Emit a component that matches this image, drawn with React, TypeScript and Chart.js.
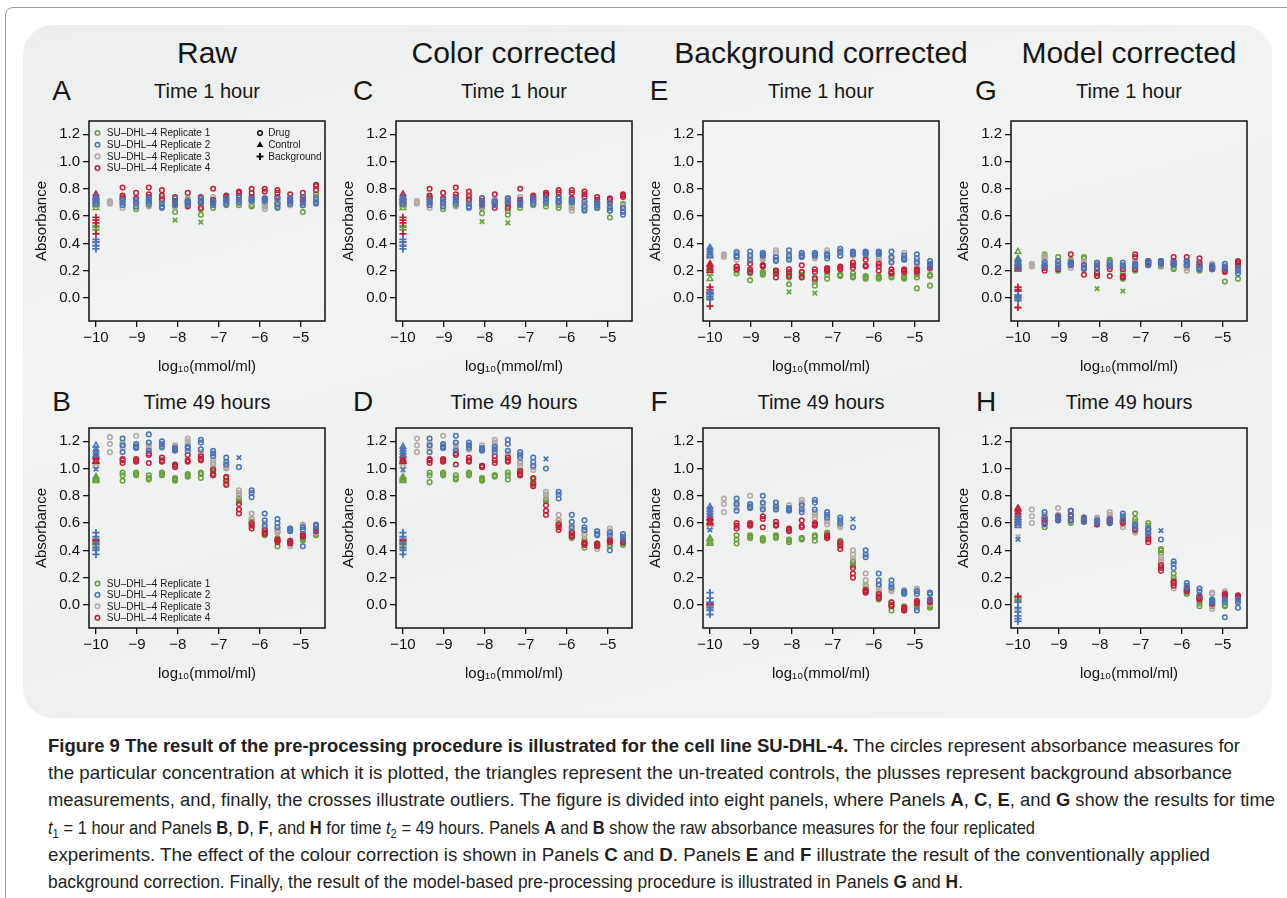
import React, { useEffect, useLayoutEffect, useRef } from 'react';
import { Chart, registerables } from 'chart.js';

Chart.register(...registerables);

const FONT = '"Liberation Sans", Arimo, Arial, sans-serif';
const CAPTION_FONT = '"Liberation Sans Narrow", "Liberation Sans", Arial, sans-serif';

// ---------- data ----------
const REPLICATES = ['SU–DHL–4 Replicate 1', 'SU–DHL–4 Replicate 2', 'SU–DHL–4 Replicate 3', 'SU–DHL–4 Replicate 4'];
const SYMBOL_LEGEND = ['Drug', 'Control', 'Background'];
const COLUMN_TITLES = ['Raw', 'Color corrected', 'Background corrected', 'Model corrected'];
const ROW_TITLES = ['Time 1 hour', 'Time 49 hours'];

// log10 concentrations of the dilution series
const CONC = [-9.66, -9.35, -9.02, -8.71, -8.39, -8.07, -7.76, -7.44, -7.14, -6.82, -6.51, -6.2, -5.88, -5.57, -5.26, -4.95, -4.63];
const CONTROL_X = -10;
const X_TICKS = [-10, -9, -8, -7, -6, -5];
const Y_TICKS = [0, 0.2, 0.4, 0.6, 0.8, 1.0, 1.2];
const X_MIN = -10.17;
const X_MAX = -4.41;
const Y_MIN = -0.169;
const Y_MAX = 1.297;

// Panel A: raw, 1 hour
const A_R1 = [[], [0.70, 0.72, 0.74], [0.65, 0.67, 0.70], [0.68, 0.70, 0.72], [0.70, 0.72, 0.73], [0.63, 0.67, 0.69], [0.69, 0.71, 0.72], [0.61, 0.65, 0.70], [0.66, 0.69, 0.71], [0.68, 0.69, 0.71], [0.68, 0.70, 0.72], [0.67, 0.68, 0.71], [0.67, 0.69, 0.71], [0.67, 0.69, 0.71], [0.68, 0.70, 0.71], [0.63, 0.68, 0.71], [0.72, 0.74, 0.76]];
const A_R2 = [[], [0.68, 0.70, 0.72], [0.67, 0.70, 0.72], [0.69, 0.71, 0.73], [0.66, 0.67, 0.69], [0.68, 0.70, 0.73], [0.68, 0.70, 0.71], [0.70, 0.71, 0.73], [0.68, 0.70, 0.71], [0.69, 0.71, 0.73], [0.70, 0.72, 0.74], [0.71, 0.72, 0.73], [0.71, 0.72, 0.73], [0.66, 0.69, 0.73], [0.69, 0.71, 0.73], [0.68, 0.70, 0.74], [0.69, 0.70, 0.73]];
const A_R3 = [[0.69, 0.70, 0.71], [0.66, 0.68, 0.71], [0.68, 0.70, 0.72], [0.67, 0.69, 0.70], [0.69, 0.71, 0.73], [0.67, 0.70, 0.71], [0.69, 0.71, 0.73], [0.68, 0.70, 0.72], [0.71, 0.72, 0.74], [0.70, 0.72, 0.73], [0.70, 0.72, 0.74], [0.70, 0.72, 0.74], [0.65, 0.67, 0.70], [0.68, 0.70, 0.72], [0.68, 0.70, 0.72], [0.69, 0.71, 0.73], [0.70, 0.71, 0.73]];
const A_R4 = [[], [0.73, 0.75, 0.81], [0.70, 0.73, 0.77], [0.74, 0.76, 0.81], [0.72, 0.75, 0.79], [0.69, 0.71, 0.74], [0.67, 0.70, 0.77], [0.66, 0.70, 0.74], [0.70, 0.72, 0.80], [0.72, 0.74, 0.75], [0.75, 0.77, 0.78], [0.74, 0.77, 0.80], [0.73, 0.78, 0.80], [0.74, 0.77, 0.79], [0.71, 0.73, 0.76], [0.72, 0.74, 0.77], [0.79, 0.82, 0.83]];
const A_CTRL = [[0.66, 0.68, 0.70, 0.72], [0.69, 0.71, 0.73, 0.74], [0.70, 0.72, 0.73], [0.71, 0.74, 0.76]];
const A_BG = [[0.50, 0.52, 0.53], [0.36, 0.38, 0.41, 0.43], [0.39, 0.41], [0.47, 0.55, 0.57, 0.59]];
const A_OUT = [[0, CONC[5], 0.57], [0, CONC[7], 0.555]];

// Panel C: colour corrected, 1 hour
const C_R1 = [[], [0.70, 0.72, 0.74], [0.65, 0.67, 0.70], [0.68, 0.70, 0.72], [0.70, 0.72, 0.73], [0.62, 0.66, 0.69], [0.69, 0.70, 0.72], [0.61, 0.64, 0.70], [0.66, 0.69, 0.70], [0.68, 0.69, 0.71], [0.67, 0.69, 0.71], [0.66, 0.68, 0.70], [0.66, 0.68, 0.70], [0.65, 0.67, 0.69], [0.66, 0.67, 0.69], [0.59, 0.64, 0.68], [0.66, 0.68, 0.69]];
const C_R2 = [[], [0.68, 0.70, 0.72], [0.67, 0.70, 0.72], [0.69, 0.71, 0.73], [0.66, 0.67, 0.69], [0.68, 0.70, 0.73], [0.68, 0.70, 0.71], [0.70, 0.71, 0.73], [0.68, 0.69, 0.71], [0.69, 0.71, 0.73], [0.70, 0.72, 0.73], [0.70, 0.71, 0.73], [0.70, 0.71, 0.72], [0.64, 0.67, 0.71], [0.66, 0.68, 0.70], [0.64, 0.66, 0.70], [0.61, 0.63, 0.66]];
const C_R3 = [[0.69, 0.70, 0.71], [0.66, 0.68, 0.71], [0.68, 0.70, 0.72], [0.67, 0.69, 0.70], [0.69, 0.71, 0.73], [0.67, 0.70, 0.71], [0.69, 0.71, 0.72], [0.68, 0.70, 0.72], [0.71, 0.72, 0.74], [0.70, 0.72, 0.73], [0.70, 0.72, 0.73], [0.70, 0.71, 0.73], [0.64, 0.66, 0.69], [0.66, 0.68, 0.70], [0.66, 0.68, 0.70], [0.66, 0.68, 0.70], [0.64, 0.66, 0.68]];
const C_R4 = [[], [0.73, 0.75, 0.80], [0.70, 0.73, 0.77], [0.74, 0.76, 0.81], [0.72, 0.75, 0.78], [0.69, 0.71, 0.73], [0.66, 0.70, 0.76], [0.66, 0.69, 0.73], [0.70, 0.72, 0.80], [0.72, 0.74, 0.75], [0.75, 0.76, 0.77], [0.74, 0.77, 0.79], [0.73, 0.77, 0.79], [0.74, 0.76, 0.78], [0.70, 0.72, 0.74], [0.70, 0.72, 0.73], [0.74, 0.75, 0.76]];
const C_CTRL = [[0.66, 0.68, 0.70, 0.72], [0.69, 0.71, 0.73, 0.74], [0.70, 0.72, 0.73], [0.71, 0.74, 0.76]];
const C_BG = [[0.50, 0.52, 0.53], [0.36, 0.38, 0.41, 0.43], [0.39, 0.41], [0.47, 0.55, 0.57, 0.59]];
const C_OUT = [[0, CONC[5], 0.56], [0, CONC[7], 0.55]];

// Panel E: background corrected, 1 hour
const E_R1 = [[], [0.18, 0.20, 0.21], [0.13, 0.18, 0.20], [0.17, 0.18, 0.19], [0.18, 0.19, 0.20], [0.10, 0.15, 0.17], [0.16, 0.17, 0.19], [0.09, 0.12, 0.15], [0.14, 0.17, 0.19], [0.16, 0.17, 0.17], [0.15, 0.16, 0.18], [0.14, 0.15, 0.16], [0.14, 0.15, 0.16], [0.15, 0.16, 0.18], [0.14, 0.15, 0.16], [0.07, 0.15, 0.17], [0.09, 0.16, 0.17]];
const E_R2 = [[], [0.30, 0.31, 0.33], [0.28, 0.31, 0.34], [0.31, 0.32, 0.33], [0.27, 0.28, 0.30], [0.28, 0.31, 0.35], [0.30, 0.31, 0.33], [0.31, 0.32, 0.33], [0.29, 0.31, 0.32], [0.31, 0.34, 0.36], [0.32, 0.33, 0.34], [0.32, 0.33, 0.34], [0.32, 0.33, 0.34], [0.26, 0.30, 0.34], [0.28, 0.29, 0.31], [0.26, 0.29, 0.32], [0.23, 0.25, 0.27]];
const E_R3 = [[0.30, 0.31, 0.32], [0.28, 0.31, 0.34], [0.27, 0.29, 0.31], [0.28, 0.29, 0.30], [0.30, 0.33, 0.35], [0.29, 0.30, 0.32], [0.30, 0.31, 0.32], [0.29, 0.30, 0.32], [0.31, 0.33, 0.35], [0.31, 0.33, 0.34], [0.31, 0.32, 0.33], [0.30, 0.32, 0.33], [0.27, 0.29, 0.30], [0.27, 0.29, 0.30], [0.28, 0.30, 0.33], [0.23, 0.25, 0.27], [0.21, 0.22, 0.24]];
const E_R4 = [[], [0.21, 0.23, 0.23], [0.19, 0.21, 0.25], [0.23, 0.24, 0.24], [0.15, 0.18, 0.20], [0.16, 0.19, 0.21], [0.15, 0.19, 0.24], [0.14, 0.19, 0.21], [0.20, 0.21, 0.22], [0.21, 0.22, 0.23], [0.22, 0.24, 0.26], [0.23, 0.24, 0.28], [0.20, 0.23, 0.25], [0.18, 0.19, 0.21], [0.19, 0.20, 0.21], [0.19, 0.20, 0.21], [0.22, 0.23, 0.24]];
const E_CTRL = [[0.14, 0.18, 0.21, 0.22], [0.31, 0.33, 0.35, 0.37], [0.30, 0.32], [0.20, 0.22, 0.24, 0.25]];
const E_BG = [[-0.01, 0.0, 0.02], [-0.01, 0.01, 0.03, 0.04], [0.0, 0.02], [-0.06, 0.04, 0.06, 0.08]];
const E_OUT = [[0, CONC[5], 0.045], [0, CONC[7], 0.035]];

// Panel G: model corrected, 1 hour
const G_R1 = [[], [0.27, 0.30, 0.32], [0.20, 0.25, 0.30], [0.25, 0.27, 0.28], [0.27, 0.29, 0.30], [0.16, 0.19, 0.21], [0.25, 0.27, 0.28], [0.14, 0.16, 0.19], [0.20, 0.22, 0.24], [0.24, 0.26, 0.27], [0.23, 0.25, 0.27], [0.21, 0.22, 0.24], [0.22, 0.24, 0.25], [0.20, 0.22, 0.23], [0.21, 0.22, 0.23], [0.12, 0.20, 0.22], [0.14, 0.23, 0.25]];
const G_R2 = [[], [0.23, 0.24, 0.26], [0.22, 0.24, 0.27], [0.24, 0.25, 0.26], [0.21, 0.22, 0.24], [0.21, 0.24, 0.26], [0.23, 0.24, 0.26], [0.23, 0.24, 0.26], [0.23, 0.24, 0.25], [0.24, 0.25, 0.27], [0.25, 0.26, 0.27], [0.24, 0.25, 0.26], [0.24, 0.26, 0.27], [0.21, 0.22, 0.24], [0.21, 0.23, 0.24], [0.21, 0.23, 0.25], [0.18, 0.20, 0.22]];
const G_R3 = [[0.23, 0.24, 0.25], [0.22, 0.29, 0.31], [0.24, 0.26, 0.27], [0.22, 0.24, 0.27], [0.25, 0.26, 0.27], [0.22, 0.24, 0.25], [0.24, 0.25, 0.26], [0.21, 0.22, 0.24], [0.24, 0.26, 0.27], [0.24, 0.25, 0.26], [0.24, 0.25, 0.26], [0.24, 0.25, 0.26], [0.20, 0.22, 0.23], [0.23, 0.24, 0.26], [0.22, 0.23, 0.25], [0.21, 0.22, 0.23], [0.20, 0.21, 0.22]];
const G_R4 = [[], [0.20, 0.22, 0.24], [0.21, 0.22, 0.24], [0.24, 0.26, 0.32], [0.17, 0.22, 0.24], [0.16, 0.18, 0.22], [0.16, 0.21, 0.23], [0.15, 0.16, 0.21], [0.21, 0.30, 0.32], [0.25, 0.26, 0.27], [0.25, 0.26, 0.27], [0.25, 0.27, 0.30], [0.24, 0.27, 0.30], [0.24, 0.26, 0.29], [0.21, 0.22, 0.23], [0.19, 0.20, 0.22], [0.24, 0.26, 0.27]];
const G_CTRL = [[0.22, 0.25, 0.29, 0.34], [0.22, 0.24, 0.26, 0.28], [0.23, 0.25, 0.27], [0.21, 0.23, 0.25]];
const G_BG = [[-0.01, 0.01], [-0.02, 0.0, 0.01, 0.02], [0.0, 0.02], [-0.07, 0.05, 0.06, 0.08]];
const G_OUT = [[0, CONC[5], 0.068], [0, CONC[7], 0.05]];

// Panel B: raw, 49 hours
const B_R1 = [[], [0.91, 0.95, 0.97], [0.95, 0.96, 0.97], [0.92, 0.93, 0.95], [0.95, 0.96, 0.97], [0.91, 0.92, 0.93], [0.94, 0.95, 0.96], [0.93, 0.96, 0.97], [0.95, 0.98, 1.00], [0.89, 0.91, 0.93], [0.76, 0.77, 0.78], [0.59, 0.61, 0.63], [0.51, 0.53, 0.54], [0.43, 0.47, 0.49], [0.45, 0.46, 0.47], [0.47, 0.48, 0.49], [0.51, 0.52, 0.53]];
const B_R2 = [[], [1.12, 1.17, 1.22], [1.15, 1.16, 1.18], [1.13, 1.19, 1.25], [1.16, 1.18, 1.20], [1.13, 1.14, 1.15], [1.13, 1.15, 1.16], [1.14, 1.19, 1.21], [1.09, 1.11, 1.13], [1.03, 1.05, 1.08], [1.01], [0.79, 0.82, 0.84], [0.58, 0.62, 0.67], [0.57, 0.60, 0.63], [0.54, 0.55, 0.56], [0.43, 0.55, 0.57], [0.55, 0.58, 0.59]];
const B_R3 = [[1.12, 1.18, 1.23], [1.15, 1.17, 1.19], [1.15, 1.17, 1.24], [1.14, 1.15, 1.17], [1.15, 1.16, 1.17], [1.15, 1.16, 1.17], [1.18, 1.20, 1.22], [1.08, 1.10, 1.12], [1.03, 1.04, 1.06], [1.00, 1.01, 1.02], [0.80, 0.82, 0.84], [0.60, 0.63, 0.67], [0.55, 0.57, 0.60], [0.53, 0.54, 0.55], [0.43, 0.46, 0.56], [0.57, 0.58, 0.59], [0.53, 0.54, 0.55]];
const B_R4 = [[], [1.04, 1.06, 1.07], [1.05, 1.06, 1.07], [1.04, 1.10, 1.11], [1.05, 1.06, 1.08], [1.01, 1.02, 1.03], [1.05, 1.06, 1.10], [1.06, 1.07, 1.09], [0.95, 0.96, 0.99], [0.88, 0.91, 0.94], [0.67, 0.70, 0.74], [0.56, 0.58, 0.60], [0.52, 0.53, 0.55], [0.46, 0.47, 0.48], [0.45, 0.46, 0.47], [0.50, 0.51, 0.52], [0.54, 0.55, 0.56]];
const B_CTRL = [[0.91, 0.92, 0.93, 0.94], [1.10, 1.12, 1.14, 1.17], [1.02, 1.04, 1.05], [1.05, 1.06, 1.08, 1.09]];
const B_BG = [[0.44, 0.45, 0.46], [0.37, 0.40, 0.42, 0.45, 0.50, 0.53], [0.41, 0.43], [0.47, 0.48]];
const B_OUT = [[1, CONTROL_X, 0.995], [1, CONC[10], 1.08]];

// Panel D: colour corrected, 49 hours
const D_R1 = [[], [0.90, 0.95, 0.97], [0.95, 0.96, 0.97], [0.92, 0.93, 0.95], [0.95, 0.96, 0.97], [0.91, 0.92, 0.93], [0.94, 0.95, 0.95], [0.92, 0.95, 0.97], [0.95, 0.97, 0.99], [0.88, 0.90, 0.92], [0.76, 0.77, 0.78], [0.58, 0.60, 0.62], [0.49, 0.51, 0.53], [0.42, 0.45, 0.48], [0.43, 0.44, 0.45], [0.43, 0.44, 0.46], [0.44, 0.45, 0.46]];
const D_R2 = [[], [1.12, 1.17, 1.22], [1.15, 1.16, 1.18], [1.13, 1.19, 1.24], [1.15, 1.17, 1.19], [1.13, 1.14, 1.15], [1.12, 1.14, 1.16], [1.13, 1.18, 1.21], [1.08, 1.10, 1.12], [1.02, 1.05, 1.08], [1.00], [0.78, 0.81, 0.83], [0.57, 0.61, 0.66], [0.55, 0.57, 0.62], [0.51, 0.52, 0.54], [0.40, 0.51, 0.53], [0.48, 0.50, 0.52]];
const D_R3 = [[1.12, 1.17, 1.22], [1.15, 1.17, 1.19], [1.15, 1.17, 1.24], [1.14, 1.15, 1.17], [1.14, 1.16, 1.17], [1.14, 1.15, 1.17], [1.17, 1.19, 1.21], [1.08, 1.10, 1.11], [1.02, 1.04, 1.05], [0.99, 1.01, 1.02], [0.79, 0.81, 0.83], [0.59, 0.62, 0.66], [0.54, 0.56, 0.58], [0.51, 0.52, 0.54], [0.41, 0.43, 0.54], [0.53, 0.54, 0.56], [0.47, 0.49, 0.50]];
const D_R4 = [[], [1.04, 1.06, 1.07], [1.05, 1.06, 1.07], [1.03, 1.10, 1.11], [1.05, 1.06, 1.08], [1.01, 1.02, 1.02], [1.04, 1.06, 1.09], [1.05, 1.06, 1.08], [0.95, 0.96, 0.98], [0.87, 0.89, 0.93], [0.66, 0.69, 0.73], [0.55, 0.57, 0.59], [0.50, 0.51, 0.53], [0.44, 0.45, 0.46], [0.43, 0.44, 0.45], [0.46, 0.47, 0.48], [0.46, 0.47, 0.48]];
const D_CTRL = [[0.91, 0.92, 0.93, 0.94], [1.10, 1.12, 1.14, 1.16], [1.02, 1.04, 1.05], [1.05, 1.06, 1.07, 1.09]];
const D_BG = [[0.44, 0.45, 0.46], [0.37, 0.40, 0.42, 0.45, 0.50, 0.53], [0.41, 0.43], [0.47, 0.48]];
const D_OUT = [[1, CONTROL_X, 0.99], [1, CONC[10], 1.07]];

// Panel F: background corrected, 49 hours
const F_R1 = [[], [0.45, 0.48, 0.51], [0.49, 0.50, 0.51], [0.47, 0.48, 0.49], [0.49, 0.50, 0.51], [0.46, 0.47, 0.48], [0.48, 0.49, 0.49], [0.47, 0.50, 0.51], [0.49, 0.52, 0.53], [0.43, 0.45, 0.47], [0.29, 0.31, 0.32], [0.10, 0.12, 0.14], [0.04, 0.07, 0.09], [-0.04, -0.01, 0.02], [-0.04, -0.02, -0.01], [-0.02, -0.01, 0.0], [-0.02, -0.01, 0.0]];
const F_R2 = [[], [0.69, 0.74, 0.78], [0.71, 0.72, 0.74], [0.70, 0.75, 0.80], [0.70, 0.72, 0.75], [0.69, 0.70, 0.71], [0.68, 0.70, 0.73], [0.70, 0.75, 0.77], [0.64, 0.66, 0.68], [0.60, 0.62, 0.64], [0.57], [0.35, 0.37, 0.40], [0.15, 0.18, 0.23], [0.13, 0.15, 0.18], [0.08, 0.09, 0.10], [-0.04, 0.08, 0.10], [0.04, 0.08, 0.09]];
const F_R3 = [[0.68, 0.74, 0.78], [0.71, 0.73, 0.75], [0.71, 0.73, 0.80], [0.71, 0.72, 0.74], [0.70, 0.71, 0.73], [0.70, 0.71, 0.73], [0.74, 0.75, 0.77], [0.64, 0.66, 0.68], [0.59, 0.61, 0.62], [0.57, 0.58, 0.59], [0.34, 0.37, 0.40], [0.15, 0.18, 0.23], [0.10, 0.12, 0.14], [0.10, 0.11, 0.12], [0.09, 0.10, 0.11], [0.10, 0.11, 0.12], [0.01, 0.02, 0.03]];
const F_R4 = [[], [0.56, 0.58, 0.60], [0.58, 0.59, 0.60], [0.57, 0.63, 0.65], [0.58, 0.59, 0.61], [0.54, 0.55, 0.56], [0.57, 0.58, 0.62], [0.58, 0.59, 0.60], [0.49, 0.50, 0.51], [0.41, 0.44, 0.46], [0.20, 0.23, 0.27], [0.09, 0.10, 0.11], [0.05, 0.06, 0.08], [-0.01, 0.0, 0.02], [-0.04, -0.03, -0.02], [0.01, 0.02, 0.03], [0.02, 0.03, 0.04]];
const F_CTRL = [[0.45, 0.46, 0.48, 0.49], [0.66, 0.68, 0.70, 0.72], [0.57, 0.59, 0.60], [0.60, 0.61, 0.63, 0.64]];
const F_BG = [[-0.01, 0.0, 0.01], [-0.07, -0.04, -0.02, 0.02, 0.05, 0.09], [-0.03, -0.01], [0.0, 0.01]];
const F_OUT = [[1, CONTROL_X, 0.55], [1, CONC[10], 0.63]];

// Panel H: model corrected, 49 hours
const H_R1 = [[], [0.57, 0.60, 0.62], [0.62, 0.63, 0.65], [0.60, 0.61, 0.63], [0.61, 0.62, 0.64], [0.59, 0.60, 0.61], [0.60, 0.61, 0.62], [0.60, 0.61, 0.63], [0.61, 0.63, 0.67], [0.56, 0.58, 0.60], [0.38, 0.40, 0.41], [0.18, 0.20, 0.23], [0.08, 0.09, 0.10], [-0.01, 0.01, 0.03], [-0.01, 0.0, 0.01], [-0.01, 0.0, 0.02], [0.02, 0.03, 0.04]];
const H_R2 = [[], [0.59, 0.64, 0.68], [0.62, 0.63, 0.65], [0.62, 0.65, 0.69], [0.61, 0.62, 0.64], [0.60, 0.61, 0.62], [0.60, 0.61, 0.63], [0.62, 0.65, 0.67], [0.56, 0.58, 0.59], [0.52, 0.55, 0.56], [0.48], [0.27, 0.30, 0.32], [0.13, 0.14, 0.16], [0.07, 0.10, 0.12], [0.02, 0.03, 0.04], [-0.09, 0.02, 0.04], [-0.02, 0.02, 0.04]];
const H_R3 = [[0.60, 0.65, 0.70], [0.61, 0.63, 0.66], [0.64, 0.66, 0.71], [0.61, 0.63, 0.65], [0.62, 0.63, 0.64], [0.62, 0.63, 0.64], [0.64, 0.66, 0.68], [0.57, 0.59, 0.60], [0.53, 0.54, 0.56], [0.52, 0.53, 0.54], [0.31, 0.33, 0.35], [0.12, 0.14, 0.16], [0.10, 0.11, 0.12], [0.05, 0.06, 0.07], [-0.03, 0.08, 0.09], [0.08, 0.09, 0.10], [0.03, 0.04, 0.05]];
const H_R4 = [[], [0.60, 0.62, 0.64], [0.62, 0.64, 0.65], [0.62, 0.66, 0.69], [0.61, 0.62, 0.63], [0.59, 0.60, 0.61], [0.60, 0.62, 0.63], [0.60, 0.61, 0.62], [0.55, 0.56, 0.58], [0.46, 0.48, 0.50], [0.25, 0.27, 0.29], [0.14, 0.16, 0.17], [0.10, 0.11, 0.12], [0.04, 0.05, 0.06], [0.01, 0.02, 0.03], [0.06, 0.07, 0.08], [0.05, 0.06, 0.07]];
const H_CTRL = [[0.60, 0.62, 0.64], [0.58, 0.60, 0.62, 0.64], [0.59, 0.61, 0.63], [0.66, 0.68, 0.70, 0.71]];
const H_BG = [[0.03, 0.04, 0.05], [-0.12, -0.10, -0.08, -0.05, -0.02, 0.02], [-0.03, 0.05, 0.07], [0.06]];
const H_OUT = [[2, CONTROL_X, 0.50], [1, CONTROL_X, 0.48], [1, CONC[10], 0.545]];

// ---------- styling / layout ----------
const COLORS = ['#6b9f3e', '#4b73b9', '#b3a7a0', '#c31f3c'];
const DRAW_WEIGHT = [4, 1, 3, 2]; // higher weight drawn first (underneath)
const COL_LEFT = [89, 396, 703, 1011];
const ROW_TOP = [121, 428];
const BOX_W = 236;
const BOX_H = 200;
const AXIS_W = 75;
const AXIS_H = 75;
const PAD = 15;
const LETTER_X = [61.5, 363, 659, 986];
const CAPTION_WIDTHS = [1192, 1184, 1227, 987, 1162, 915];

const PANELS = [
  { id: 'A', col: 0, row: 0, drug: [A_R1, A_R2, A_R3, A_R4], ctrl: A_CTRL, bg: A_BG, out: A_OUT, legend: 'top' },
  { id: 'C', col: 1, row: 0, drug: [C_R1, C_R2, C_R3, C_R4], ctrl: C_CTRL, bg: C_BG, out: C_OUT, legend: '' },
  { id: 'E', col: 2, row: 0, drug: [E_R1, E_R2, E_R3, E_R4], ctrl: E_CTRL, bg: E_BG, out: E_OUT, legend: '' },
  { id: 'G', col: 3, row: 0, drug: [G_R1, G_R2, G_R3, G_R4], ctrl: G_CTRL, bg: G_BG, out: G_OUT, legend: '' },
  { id: 'B', col: 0, row: 1, drug: [B_R1, B_R2, B_R3, B_R4], ctrl: B_CTRL, bg: B_BG, out: B_OUT, legend: 'bottom' },
  { id: 'D', col: 1, row: 1, drug: [D_R1, D_R2, D_R3, D_R4], ctrl: D_CTRL, bg: D_BG, out: D_OUT, legend: '' },
  { id: 'F', col: 2, row: 1, drug: [F_R1, F_R2, F_R3, F_R4], ctrl: F_CTRL, bg: F_BG, out: F_OUT, legend: '' },
  { id: 'H', col: 3, row: 1, drug: [H_R1, H_R2, H_R3, H_R4], ctrl: H_CTRL, bg: H_BG, out: H_OUT, legend: '' },
];

function drawMarker(ctx: CanvasRenderingContext2D, style: string, x: number, y: number, color: string) {
  ctx.save();
  ctx.strokeStyle = color;
  ctx.fillStyle = color;
  ctx.lineWidth = 1.5;
  ctx.beginPath();
  if (style === 'circle') {
    ctx.arc(x, y, 2.3, 0, Math.PI * 2);
    ctx.stroke();
  } else if (style === 'triangle') {
    const r = 3.4;
    ctx.moveTo(x, y - r);
    ctx.lineTo(x + r * 0.95, y + r * 0.65);
    ctx.lineTo(x - r * 0.95, y + r * 0.65);
    ctx.closePath();
    ctx.fill();
  } else {
    const r = 3.5;
    ctx.lineWidth = 2;
    ctx.moveTo(x - r, y);
    ctx.lineTo(x + r, y);
    ctx.moveTo(x, y - r);
    ctx.lineTo(x, y + r);
    ctx.stroke();
  }
  ctx.restore();
}

const framePlugin = {
  id: 'frame',
  afterDraw(chart: any) {
    const { ctx, chartArea } = chart;
    ctx.save();
    ctx.lineWidth = 1.5;
    ctx.strokeStyle = '#111';
    ctx.strokeRect(chartArea.left, chartArea.top, chartArea.right - chartArea.left, chartArea.bottom - chartArea.top);
    ctx.restore();
  },
};

const insetLegendPlugin = {
  id: 'insetLegend',
  afterDraw(chart: any, _args: any, opts: any) {
    const mode = opts && opts.mode;
    if (!mode) return;
    const { ctx, chartArea } = chart;
    ctx.save();
    ctx.font = `10px ${FONT}`;
    ctx.textBaseline = 'middle';
    ctx.fillStyle = '#1a1a1a';
    const y0 = mode === 'top' ? 12 : 155.5;
    const step = mode === 'top' ? 11.7 : 11.4;
    REPLICATES.forEach((label, i) => {
      const x = chartArea.left + 8.5;
      const y = chartArea.top + y0 + i * step;
      drawMarker(ctx, 'circle', x, y, COLORS[i]);
      ctx.fillText(label, x + 9.3, y + 0.5);
    });
    if (mode === 'top') {
      const styles = ['circle', 'triangle', 'plus'];
      SYMBOL_LEGEND.forEach((label, i) => {
        const x = chartArea.left + 171;
        const y = chartArea.top + y0 + i * step;
        drawMarker(ctx, styles[i], x, y, '#111');
        ctx.fillText(label, x + 8.3, y + 0.5);
      });
    }
    ctx.restore();
  },
};

const fmtX = (v: number) => (v < 0 ? '\u2212' + Math.abs(v) : String(v));

function Panel({ spec }: { spec: any }) {
  const ref = useRef<HTMLCanvasElement>(null);
  const left = COL_LEFT[spec.col] - AXIS_W;
  const top = ROW_TOP[spec.row] - PAD;
  const w = AXIS_W + BOX_W + PAD;
  const h = PAD + BOX_H + AXIS_H;

  useEffect(() => {
    const canvas = ref.current;
    if (!canvas) return;
    const datasets: any[] = [];
    const pointSet = (label: string, data: any[], r: number, style: string, radius: number, bw: number) => ({
      label,
      data,
      order: DRAW_WEIGHT[r],
      showLine: false,
      pointStyle: style,
      pointRadius: radius,
      pointHoverRadius: radius,
      pointBorderWidth: bw,
      pointHoverBorderWidth: bw,
      pointBorderColor: COLORS[r],
      pointBackgroundColor: 'rgba(0,0,0,0)',
      borderColor: COLORS[r],
      backgroundColor: 'rgba(0,0,0,0)',
    });
    spec.drug.forEach((rep: number[][], r: number) => {
      const pts: any[] = [];
      rep.forEach((vals, i) => vals.forEach((v) => pts.push({ x: CONC[i], y: v })));
      datasets.push(pointSet(REPLICATES[r] + ' drug', pts, r, 'circle', 2.3, 1.5));
    });
    spec.ctrl.forEach((vals: number[], r: number) => {
      datasets.push(pointSet(REPLICATES[r] + ' control', vals.map((v) => ({ x: CONTROL_X, y: v })), r, 'triangle', 3.2, 1.5));
    });
    spec.bg.forEach((vals: number[], r: number) => {
      datasets.push(pointSet(REPLICATES[r] + ' background', vals.map((v) => ({ x: CONTROL_X, y: v })), r, 'cross', 3.6, 1.8));
    });
    const outs: any[][] = [[], [], [], []];
    spec.out.forEach(([r, x, y]: number[]) => outs[r].push({ x, y }));
    outs.forEach((pts, r) => {
      if (pts.length) datasets.push(pointSet(REPLICATES[r] + ' outlier', pts, r, 'crossRot', 3.2, 1.7));
    });

    const grid = { drawOnChartArea: false, drawTicks: true, tickLength: 6, color: '#111', lineWidth: 1.3 };
    const chart = new Chart(canvas, {
      type: 'scatter',
      data: { datasets },
      plugins: [framePlugin, insetLegendPlugin],
      options: {
        animation: false,
        responsive: false,
        events: [],
        layout: { padding: { left: 0, top: PAD, right: PAD, bottom: 0 } },
        plugins: {
          legend: { display: false },
          tooltip: { enabled: false },
          insetLegend: { mode: spec.legend },
        } as any,
        scales: {
          x: {
            type: 'linear',
            min: X_MIN,
            max: X_MAX,
            afterBuildTicks: (s: any) => { s.ticks = X_TICKS.map((v) => ({ value: v })); },
            afterFit: (s: any) => { s.height = AXIS_H; },
            grid,
            border: { display: false },
            ticks: { padding: 2, color: '#111', autoSkip: false, maxRotation: 0, font: { family: FONT, size: 15 }, callback: (v: any) => fmtX(Number(v)) },
            title: { display: true, text: 'log\u2081\u2080(mmol/ml)', color: '#111', font: { family: FONT, size: 15 }, padding: { top: 0, bottom: 20 } },
          },
          y: {
            type: 'linear',
            min: Y_MIN,
            max: Y_MAX,
            afterBuildTicks: (s: any) => { s.ticks = Y_TICKS.map((v) => ({ value: v })); },
            afterFit: (s: any) => { s.width = AXIS_W; },
            grid,
            border: { display: false },
            ticks: { padding: 3, color: '#111', autoSkip: false, font: { family: FONT, size: 15 }, callback: (v: any) => Number(v).toFixed(1) },
            title: { display: true, text: 'Absorbance', color: '#111', font: { family: FONT, size: 15 }, padding: { top: 19, bottom: 0 } },
          },
        },
      } as any,
    });
    return () => chart.destroy();
  }, []);

  return (
    <canvas
      ref={ref}
      width={w}
      height={h}
      style={{ position: 'absolute', left, top, width: w, height: h }}
    />
  );
}

function Text({ cx, baseline, size, children, color = '#161616' }: any) {
  return (
    <div
      style={{
        position: 'absolute',
        left: cx,
        top: baseline - 0.8465 * size,
        transform: 'translateX(-50%)',
        fontSize: size,
        lineHeight: `${size}px`,
        whiteSpace: 'nowrap',
        color,
      }}
    >
      {children}
    </div>
  );
}

const sub = { fontSize: '68%', verticalAlign: 'baseline', position: 'relative' as const, top: 4 };

export default function App() {
  const lineRefs = useRef<(HTMLDivElement | null)[]>([]);

  const caption = [
    <><b>Figure 9 The result of the pre-processing procedure is illustrated for the cell line SU-DHL-4.</b> The circles represent absorbance measures for</>,
    <>the particular concentration at which it is plotted, the triangles represent the un-treated controls, the plusses represent background absorbance</>,
    <>measurements, and, finally, the crosses illustrate outliers. The figure is divided into eight panels, where Panels <b>A</b>, <b>C</b>, <b>E</b>, and <b>G</b> show the results for time</>,
    <><i>t</i><sub style={sub}>1</sub> = 1 hour and Panels <b>B</b>, <b>D</b>, <b>F</b>, and <b>H</b> for time <i>t</i><sub style={sub}>2</sub> = 49 hours. Panels <b>A</b> and <b>B</b> show the raw absorbance measures for the four replicated</>,
    <>experiments. The effect of the colour correction is shown in Panels <b>C</b> and <b>D</b>. Panels <b>E</b> and <b>F</b> illustrate the result of the conventionally applied</>,
    <>background correction. Finally, the result of the model-based pre-processing procedure is illustrated in Panels <b>G</b> and <b>H</b>.</>,
  ];

  useLayoutEffect(() => {
    const fit = () => {
      lineRefs.current.forEach((el, i) => {
        if (!el) return;
        el.style.transform = 'none';
        const wdt = el.getBoundingClientRect().width;
        if (wdt > 0) el.style.transform = `scaleX(${CAPTION_WIDTHS[i] / wdt})`;
      });
    };
    fit();
    const fonts = (document as any).fonts;
    if (fonts && fonts.ready) fonts.ready.then(fit);
  }, []);

  return (
    <div style={{ position: 'fixed', inset: 0, overflow: 'hidden', background: '#ffffff', fontFamily: FONT }}>
      <div style={{ position: 'absolute', left: 5, top: 7, width: 1400, height: 1000, border: '1px solid #9c9c9c', borderRadius: 8 }} />
      <div
        style={{
          position: 'absolute',
          left: 23,
          top: 25,
          width: 1249,
          height: 693,
          borderRadius: 30,
          background: 'linear-gradient(165deg, #eceeee 0%, #f2f3f3 35%, #eef0f0 60%, #f3f4f4 100%)',
        }}
      />
      {COLUMN_TITLES.map((t, c) => (
        <Text key={t} cx={COL_LEFT[c] + BOX_W / 2} baseline={63} size={30}>{t}</Text>
      ))}
      {PANELS.map((p) => (
        <React.Fragment key={p.id}>
          <Text cx={LETTER_X[p.col]} baseline={p.row === 0 ? 101 : 412} size={28}>{p.id}</Text>
          <Text cx={COL_LEFT[p.col] + BOX_W / 2} baseline={p.row === 0 ? 97.5 : 408.5} size={20}>{ROW_TITLES[p.row]}</Text>
        </React.Fragment>
      ))}
      {PANELS.map((p) => (
        <Panel key={p.id} spec={p} />
      ))}
      {caption.map((line, i) => (
        <div
          key={i}
          ref={(el) => { lineRefs.current[i] = el; }}
          style={{
            position: 'absolute',
            left: 48,
            top: 752 + i * 27.2 - 16.1,
            fontFamily: CAPTION_FONT,
            fontSize: 19,
            lineHeight: '19px',
            whiteSpace: 'nowrap',
            transformOrigin: '0 0',
            color: '#231f20',
          }}
        >
          {line}
        </div>
      ))}
    </div>
  );
}
